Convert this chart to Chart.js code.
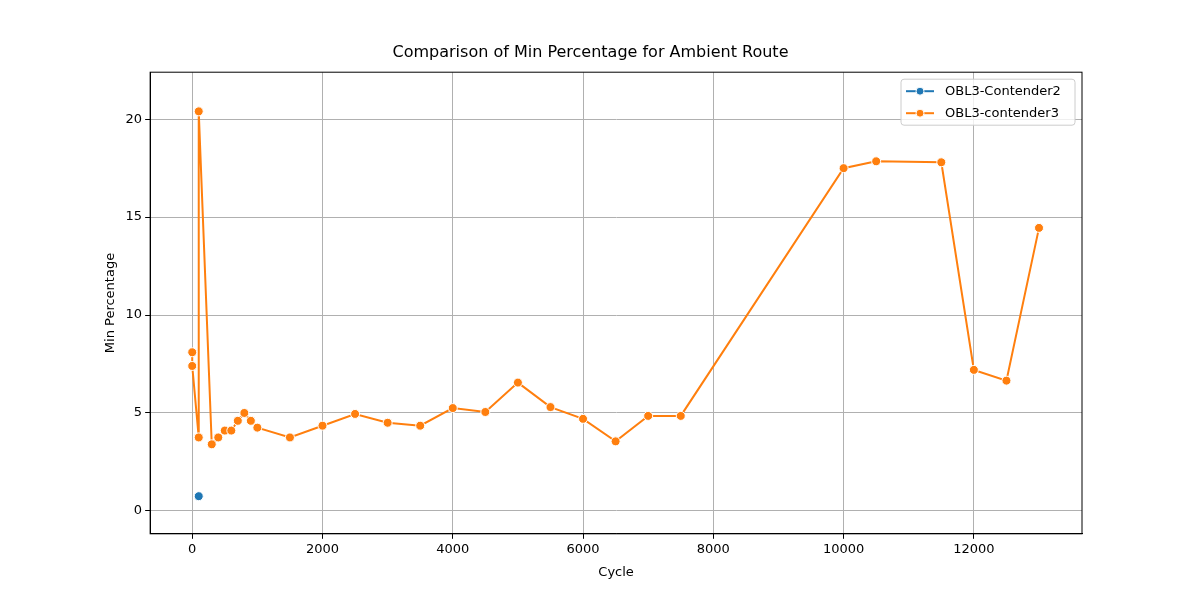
<!DOCTYPE html>
<html><head><meta charset="utf-8">
<script src="https://cdn.jsdelivr.net/npm/chart.js@4"></script>
<style>body{margin:0;background:#fff}#wrap{width:1200px;height:600px}</style>
</head><body><div id="wrap"><canvas id="c"></canvas></div>
<script>
// data
const cyclesC2 = [100];
const minPctC2 = [0.75];
const cyclesC3 = [0, 0, 100, 100, 300, 400, 500, 600, 700, 800, 900, 1000, 1500, 2000, 2500, 3000, 3500, 4000, 4500, 5000, 5500, 6000, 6500, 7000, 7500, 10000, 10500, 11500, 12000, 12500, 13000];
const minPctC3 = [8.1, 7.4, 3.75, 20.4, 3.4, 3.75, 4.1, 4.1, 4.6, 5.0, 4.6, 4.25, 3.75, 4.35, 4.95, 4.5, 4.35, 5.25, 5.05, 6.55, 5.3, 4.7, 3.55, 4.85, 4.85, 17.5, 17.85, 17.8, 7.2, 6.65, 14.45];
const xTicks = [0, 2000, 4000, 6000, 8000, 10000, 12000];
const yTicks = [0, 5, 10, 15, 20];

const pts = (xs, ys) => xs.map((x, i) => ({x: x, y: ys[i]}));
const font = {family: 'DejaVu Sans', size: 13};
Chart.defaults.font = font;
Chart.defaults.color = '#000';

new Chart(document.getElementById('c'), {
    type: 'line',
    data: {
        datasets: [
            {label: 'OBL3-Contender2', data: pts(cyclesC2, minPctC2), borderColor: '#1f77b4', backgroundColor: '#1f77b4',
             pointBorderColor: '#fff', pointBorderWidth: 1, pointRadius: 4.5, borderWidth: 2},
            {label: 'OBL3-contender3', data: pts(cyclesC3, minPctC3), borderColor: '#ff7f0e', backgroundColor: '#ff7f0e',
             pointBorderColor: '#fff', pointBorderWidth: 1, pointRadius: 4.5, borderWidth: 2}
        ]
    },
    options: {
        responsive: true,
        maintainAspectRatio: false,
        animation: false,
        layout: {padding: {left: 99, right: 118, top: 35, bottom: 16}},
        plugins: {
            title: {display: true, text: 'Comparison of Min Percentage for Ambient Route', font: {family: 'DejaVu Sans', size: 16, weight: 'normal'}, padding: {top: 8, bottom: 10}},
            legend: {display: false}
        },
        scales: {
            x: {
                type: 'linear', min: -646, max: 13660,
                afterBuildTicks: ax => { ax.ticks = xTicks.map(v => ({value: v})); },
                ticks: {callback: v => v, font: font},
                grid: {color: '#b0b0b0', drawTicks: true, tickColor: '#000', tickLength: 5},
                border: {color: '#000'},
                title: {display: true, text: 'Cycle', font: font}
            },
            y: {
                min: -1.17, max: 22.4,
                afterBuildTicks: ax => { ax.ticks = yTicks.map(v => ({value: v})); },
                ticks: {font: font},
                grid: {color: '#b0b0b0', tickColor: '#000', tickLength: 5},
                border: {color: '#000'},
                title: {display: true, text: 'Min Percentage', font: font}
            }
        }
    },
    plugins: [{
        id: 'frameLegend',
        afterDraw(ch) {
            const a = ch.chartArea, c = ch.ctx;
            c.save(); c.strokeStyle = '#000'; c.lineWidth = 1;
            c.strokeRect(a.left, a.top, a.right - a.left, a.bottom - a.top);
            // legend box, top right
            const w = 174, h = 46, x0 = a.right - w - 7, y0 = a.top + 7;
            c.fillStyle = 'rgba(255,255,255,0.8)'; c.strokeStyle = '#ccc';
            c.beginPath(); c.roundRect(x0, y0, w, h, 3); c.fill(); c.stroke();
            c.font = '13px "DejaVu Sans"'; c.textBaseline = 'middle';
            ch.data.datasets.forEach((d, i) => {
                const y = y0 + 12 + i * 22;
                c.strokeStyle = d.borderColor; c.lineWidth = 2;
                c.beginPath(); c.moveTo(x0 + 5, y); c.lineTo(x0 + 33, y); c.stroke();
                c.fillStyle = d.borderColor; c.beginPath(); c.arc(x0 + 19, y, 4, 0, Math.PI * 2); c.fill();
                c.strokeStyle = '#fff'; c.lineWidth = 1; c.stroke();
                c.fillStyle = '#000'; c.fillText(d.label, x0 + 44, y);
            });
            c.restore();
        }
    }]
});
</script></body></html>
